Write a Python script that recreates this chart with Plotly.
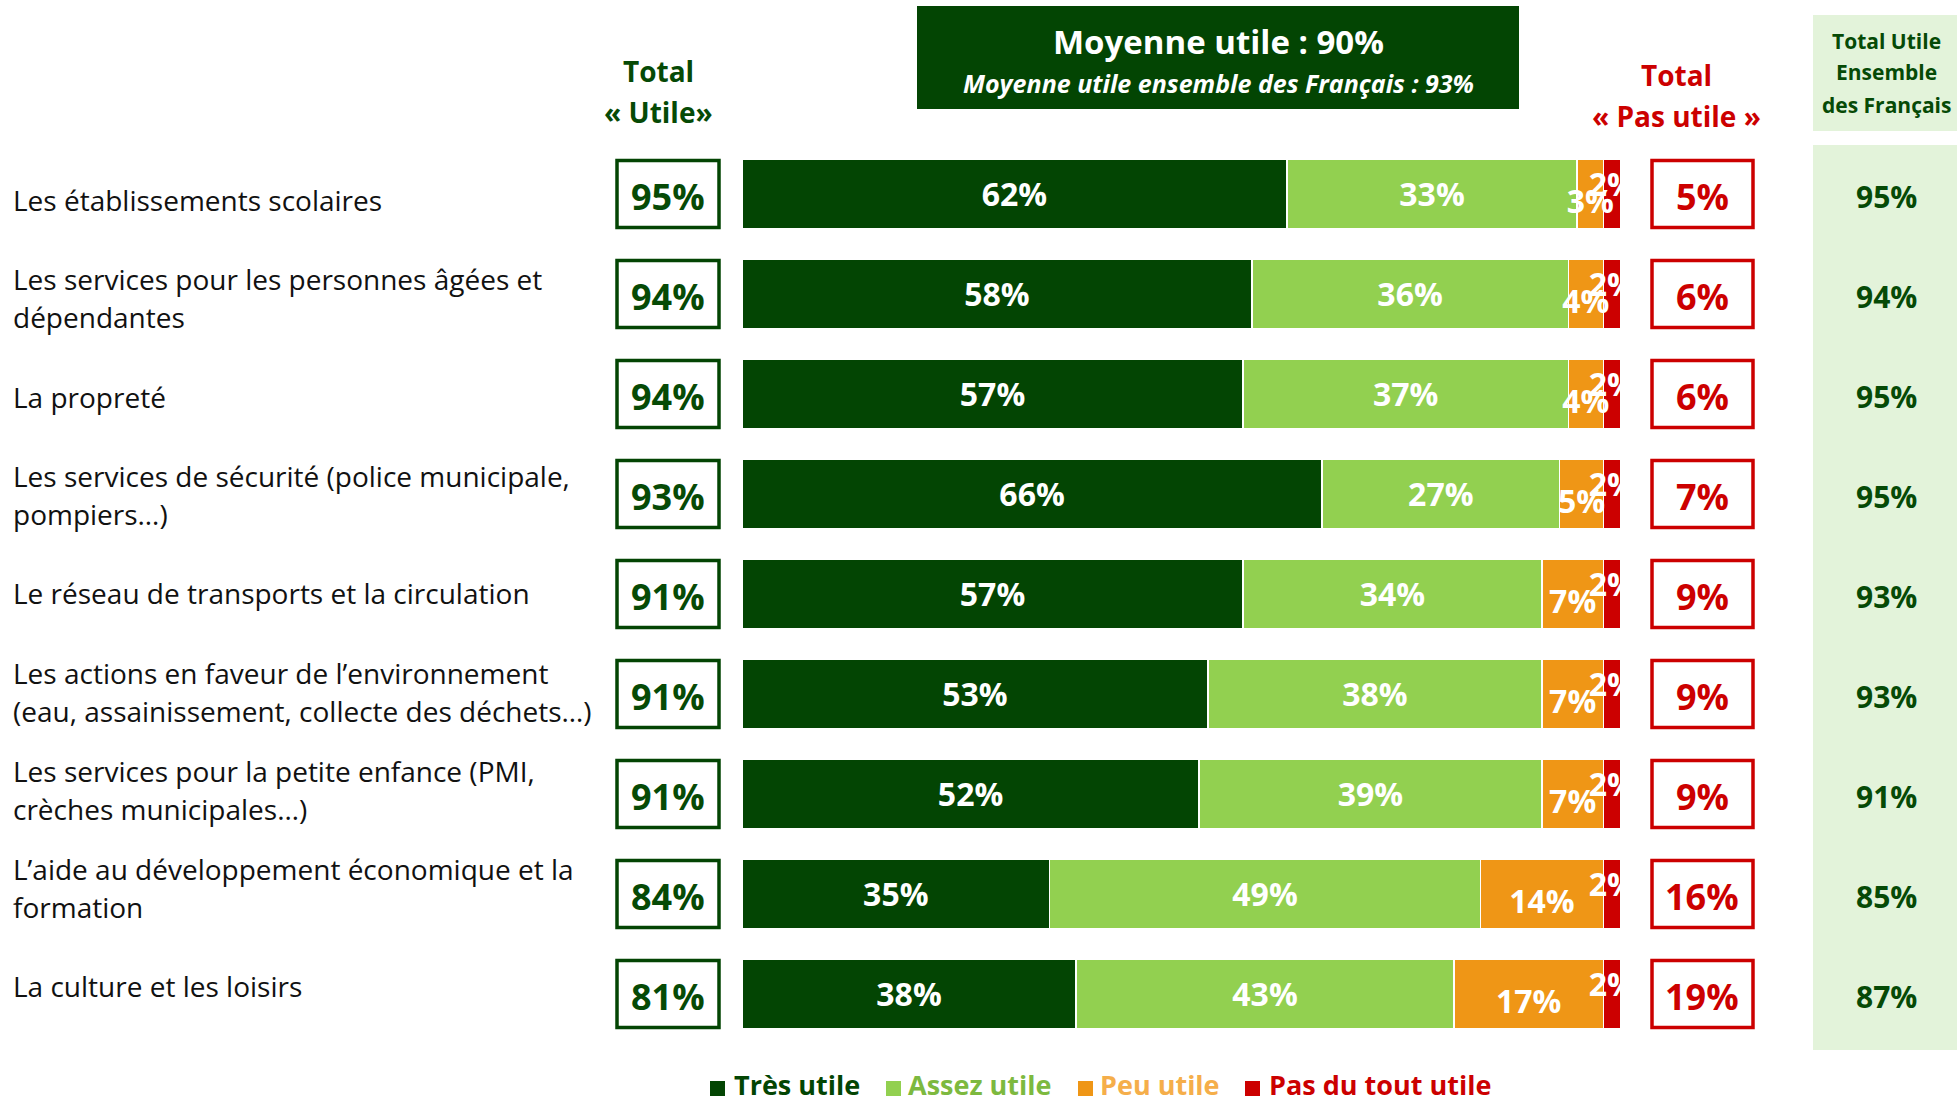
import plotly.graph_objects as go

# ---- data -------------------------------------------------------------
categories = [
    "Les établissements scolaires",
    "Les services pour les personnes âgées et<br>dépendantes",
    "La propreté",
    "Les services de sécurité (police municipale,<br>pompiers…)",
    "Le réseau de transports et la circulation",
    "Les actions en faveur de l’environnement<br>(eau, assainissement, collecte des déchets…)",
    "Les services pour la petite enfance (PMI,<br>crèches municipales…)",
    "L’aide au développement économique et la<br>formation",
    "La culture et les loisirs",
]
tres_utile = [62, 58, 57, 66, 57, 53, 52, 35, 38]
assez_utile = [33, 36, 37, 27, 34, 38, 39, 49, 43]
peu_utile = [3, 4, 4, 5, 7, 7, 7, 14, 17]
pas_du_tout = [2, 2, 2, 2, 2, 2, 2, 2, 2]
total_utile = [95, 94, 94, 93, 91, 91, 91, 84, 81]
total_pas_utile = [5, 6, 6, 7, 9, 9, 9, 16, 19]
total_ensemble = [95, 94, 95, 95, 93, 93, 91, 85, 87]
moyenne_utile = 90
moyenne_ensemble = 93

series_names = ["Très utile", "Assez utile", "Peu utile", "Pas du tout utile"]

# ---- style ------------------------------------------------------------
W, H = 1957, 1102
FONT = "Open Sans"
DARK = "#034503"
LIGHT = "#92D050"
ORANGE = "#EF9616"
RED = "#CC0000"
PANEL = "#E3F3DA"
TXT_GREEN = "#064A06"
series_colors = [DARK, LIGHT, ORANGE, RED]
legend_text_colors = [DARK, "#7DB93F", "#F5AE4A", RED]
BAR_LABEL_FONT = dict(family=FONT, size=32, color="white", weight=700)

# y axis: row i is drawn at pixel 194 + 100*i
ROW0_PX, ROW_PX = 194, 100


def px(x):
    return x / W


def py(y):
    return 1 - y / H


def row_units(pixel_y):
    return (pixel_y - ROW0_PX) / ROW_PX


def note(x, y, text, font, yref="paper", xanchor="center"):
    return dict(x=x, y=y, xref="paper", yref=yref, text=text, font=font,
                showarrow=False, xanchor=xanchor, yanchor="middle",
                align="left" if xanchor == "left" else "center")


rows = list(range(len(categories)))
series = [tres_utile, assez_utile, peu_utile, pas_du_tout]

fig = go.Figure()

# stacked bars
for name, vals, col in zip(series_names, series, series_colors):
    fig.add_trace(go.Bar(
        y=rows, x=vals, name=name, orientation="h",
        marker=dict(color=col, line=dict(color="white", width=1.5)),
        width=0.7, showlegend=False, hoverinfo="skip",
    ))

# segment labels; narrow segments get their labels nudged down (orange)
# or up (red), and anything past the bar end is clipped by the plot area
starts = [[0] * len(rows)]
for vals in series[:-1]:
    starts.append([s + v for s, v in zip(starts[-1], vals)])

label_dy = [0.04, 0.04, 0.11, -0.06]
for k, vals in enumerate(series):
    xs = [s + v / 2 for s, v in zip(starts[k], vals)]
    fig.add_trace(go.Scatter(
        x=xs, y=[r + label_dy[k] for r in rows], mode="text",
        text=[f"{v}%" for v in vals], textfont=BAR_LABEL_FONT,
        textposition="middle center", cliponaxis=True,
        showlegend=False, hoverinfo="skip",
    ))

shapes = []
annotations = []

# right-hand panel (total utile ensemble des Français)
shapes.append(dict(type="rect", xref="paper", yref="paper",
                   x0=px(1813), x1=px(1957), y0=py(15), y1=py(131),
                   fillcolor=PANEL, line=dict(width=0), layer="below"))
shapes.append(dict(type="rect", xref="paper", yref="paper",
                   x0=px(1813), x1=px(1957), y0=py(145), y1=py(1050),
                   fillcolor=PANEL, line=dict(width=0), layer="below"))

# average banner
shapes.append(dict(type="rect", xref="paper", yref="paper",
                   x0=px(917), x1=px(1519), y0=py(6), y1=py(109),
                   fillcolor=DARK, line=dict(width=0)))
annotations.append(note(px(1218), py(41), f"Moyenne utile : {moyenne_utile}%",
                        dict(family=FONT, size=33, color="white", weight=700)))
annotations.append(note(px(1218), py(83),
                        f"<i>Moyenne utile ensemble des Français : {moyenne_ensemble}%</i>",
                        dict(family=FONT, size=25, color="white", weight=700)))

# column headers
for txt, yy in [("Total", 71), ("« Utile»", 112)]:
    annotations.append(note(px(658), py(yy), txt,
                            dict(family=FONT, size=28, color=TXT_GREEN, weight=700)))
for txt, yy in [("Total", 75), ("« Pas utile »", 116)]:
    annotations.append(note(px(1676), py(yy), txt,
                            dict(family=FONT, size=28, color=RED, weight=700)))
for txt, yy in [("Total Utile", 41), ("Ensemble", 72), ("des Français", 105)]:
    annotations.append(note(px(1886), py(yy), txt,
                            dict(family=FONT, size=21, color=TXT_GREEN, weight=700)))

# per-row boxes, category labels and totals
for i in rows:
    shapes.append(dict(type="rect", xref="paper", yref="y",
                       x0=px(617), x1=px(719), y0=i - 0.335, y1=i + 0.335,
                       line=dict(color=DARK, width=3.5), fillcolor="white"))
    shapes.append(dict(type="rect", xref="paper", yref="y",
                       x0=px(1652), x1=px(1753), y0=i - 0.335, y1=i + 0.335,
                       line=dict(color=RED, width=3.5), fillcolor="white"))
    annotations.append(note(px(668), i + 0.02, f"{total_utile[i]}%",
                            dict(family=FONT, size=36, color=TXT_GREEN, weight=700),
                            yref="y"))
    annotations.append(note(px(1702), i + 0.02, f"{total_pas_utile[i]}%",
                            dict(family=FONT, size=36, color=RED, weight=700),
                            yref="y"))
    annotations.append(note(px(1886), i + 0.02, f"{total_ensemble[i]}%",
                            dict(family=FONT, size=30, color=TXT_GREEN, weight=700),
                            yref="y"))
    # category text block: slightly tighter pitch than the bars
    base = 200 + 98.3 * i
    lines = categories[i].split("<br>")
    line_px = [base] if len(lines) == 1 else [base - 19, base + 19]
    for line, lp in zip(lines, line_px):
        annotations.append(note(px(11), row_units(lp), line,
                                dict(family=FONT, size=28, color="#111111"),
                                yref="y", xanchor="left"))

# legend drawn by hand so each label can carry its own colour
legend_sq_x = [710, 886, 1078, 1245]
legend_txt_x = [732, 906, 1098, 1267]
for name, col, tcol, sx, tx in zip(series_names, series_colors, legend_text_colors,
                                   legend_sq_x, legend_txt_x):
    shapes.append(dict(type="rect", xref="paper", yref="paper",
                       x0=px(sx), x1=px(sx + 15), y0=py(1081), y1=py(1096),
                       fillcolor=col, line=dict(width=0)))
    annotations.append(note(px(tx), py(1084), name,
                            dict(family=FONT, size=27, color=tcol, weight=700),
                            xanchor="left"))

fig.update_layout(
    width=W, height=H,
    margin=dict(l=0, r=0, t=0, b=0),
    paper_bgcolor="white", plot_bgcolor="white",
    barmode="stack",
    xaxis=dict(domain=[px(742), px(1621)], range=[0, 100], visible=False,
               fixedrange=True),
    yaxis=dict(domain=[0, 1],
               range=[row_units(H), row_units(0)], visible=False,
               fixedrange=True),
    shapes=shapes, annotations=annotations,
    font=dict(family=FONT),
)

fig.write_html("out.html")
